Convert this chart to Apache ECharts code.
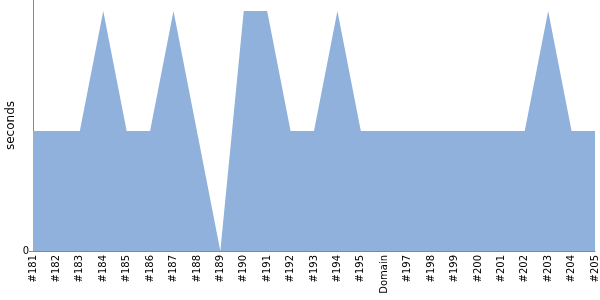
<!DOCTYPE html>
<html><head><meta charset="utf-8">
<script src="https://cdn.jsdelivr.net/npm/echarts@6/dist/echarts.min.js"></script>
<style>html,body{margin:0;padding:0;background:#fff}#c{width:600px;height:300px}</style>
</head><body><div id="c"></div>
<script>
const categories = ['#181','#182','#183','#184','#185','#186','#187','#188','#189','#190','#191','#192','#193','#194','#195','Domain','#197','#198','#199','#200','#201','#202','#203','#204','#205'];
const seconds = [1,1,1,2,1,1,2,1,0,2,2,1,1,2,1,1,1,1,1,1,1,1,2,1,1];
const yTicks = [0];
const chart = echarts.init(document.getElementById('c'), null, {renderer:'canvas'});
chart.setOption({
  animation:false,
  grid:{left:33,right:5,top:0,bottom:49,containLabel:false,outerBoundsMode:'none'},
  xAxis:{type:'category',data:categories,boundaryGap:false,
    axisLine:{show:true,lineStyle:{color:'#888',width:1}},
    axisTick:{show:false},
    axisLabel:{rotate:90,interval:0,fontSize:10,color:'#000',fontFamily:'DejaVu Sans',margin:4},
    splitLine:{show:false}},
  yAxis:{type:'value',min:0,max:2.0917,name:'seconds',nameLocation:'middle',nameGap:16,nameMoveOverlap:false,
    nameTextStyle:{fontSize:12,color:'#000',fontFamily:'DejaVu Sans'},
    axisLine:{show:true,lineStyle:{color:'#888',width:1}},
    axisTick:{show:true,length:4,lineStyle:{color:'#888'},customValues:yTicks},
    axisLabel:{fontSize:10,color:'#000',fontFamily:'DejaVu Sans',margin:4,customValues:yTicks},
    splitLine:{show:false}},
  series:[{type:'line',data:seconds,symbol:'none',lineStyle:{width:0},
    areaStyle:{color:'#8fb1db',opacity:1}}]
});
</script></body></html>
